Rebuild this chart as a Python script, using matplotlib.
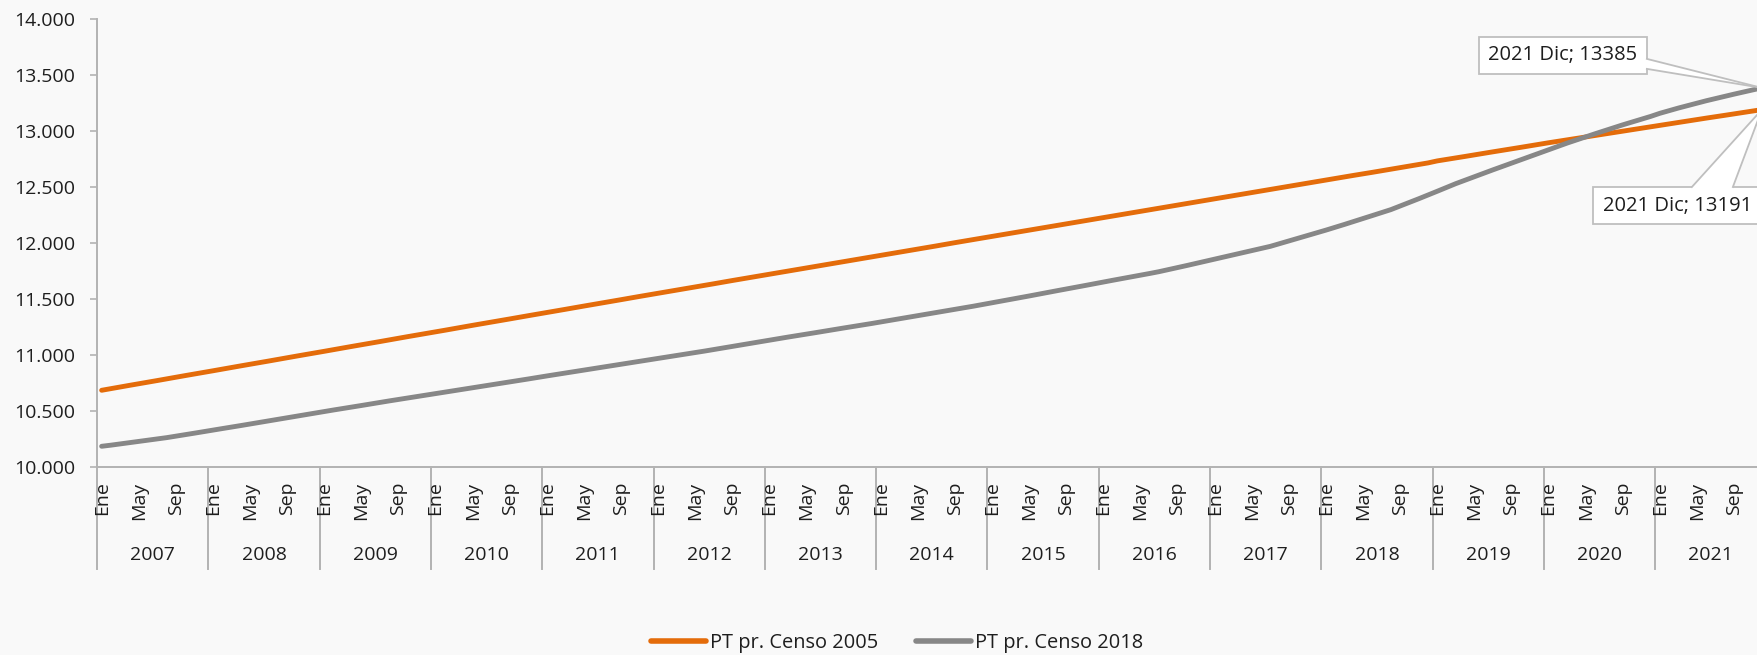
import matplotlib
matplotlib.use('Agg')
import matplotlib.pyplot as plt
import matplotlib.transforms as mtransforms
from matplotlib.patches import Rectangle, Polygon
from matplotlib.lines import Line2D
import numpy as np

plt.rcParams['font.family'] = ['Open Sans', 'DejaVu Sans']

# ---------------- data ----------------
years = list(range(2007, 2022))
month_names = ['Ene', 'Feb', 'Mar', 'Abr', 'May', 'Jun', 'Jul', 'Ago', 'Sep', 'Oct', 'Nov', 'Dic']
shown_months = ['Ene', 'May', 'Sep']
series_names = ['PT pr. Censo 2005', 'PT pr. Censo 2018']

censo2005 = [
    10685, 10700, 10714, 10729, 10743, 10758, 10772, 10787, 10801, 10816, 10830, 10845,  # 2007
    10859, 10874, 10888, 10903, 10917, 10932, 10946, 10961, 10975, 10990, 11004, 11019,  # 2008
    11033, 11048, 11062, 11077, 11091, 11106, 11120, 11135, 11149, 11164, 11178, 11193,  # 2009
    11207, 11221, 11236, 11250, 11265, 11279, 11293, 11308, 11322, 11337, 11351, 11365,  # 2010
    11380, 11394, 11408, 11423, 11437, 11451, 11466, 11480, 11494, 11509, 11523, 11537,  # 2011
    11552, 11566, 11580, 11594, 11608, 11622, 11636, 11651, 11665, 11679, 11693, 11707,  # 2012
    11721, 11735, 11749, 11763, 11777, 11791, 11806, 11820, 11834, 11848, 11862, 11876,  # 2013
    11890, 11904, 11918, 11932, 11946, 11960, 11974, 11989, 12003, 12017, 12031, 12045,  # 2014
    12059, 12073, 12087, 12101, 12115, 12129, 12143, 12157, 12171, 12185, 12199, 12213,  # 2015
    12227, 12241, 12255, 12269, 12283, 12297, 12311, 12325, 12339, 12353, 12367, 12381,  # 2016
    12395, 12409, 12423, 12437, 12451, 12464, 12478, 12492, 12506, 12520, 12534, 12548,  # 2017
    12562, 12576, 12590, 12604, 12617, 12631, 12645, 12659, 12673, 12687, 12701, 12715,  # 2018
    12733, 12746, 12760, 12773, 12787, 12800, 12814, 12827, 12841, 12854, 12868, 12881,  # 2019
    12895, 12908, 12921, 12934, 12947, 12960, 12973, 12986, 12999, 13012, 13025, 13038,  # 2020
    13051, 13064, 13076, 13089, 13102, 13115, 13127, 13140, 13153, 13166, 13178, 13191,  # 2021
]

censo2018 = [
    10185, 10195, 10206, 10216, 10227, 10238, 10250, 10262, 10275, 10289, 10302, 10316,  # 2007
    10330, 10343, 10356, 10370, 10384, 10398, 10412, 10425, 10439, 10453, 10467, 10481,  # 2008
    10495, 10509, 10522, 10536, 10549, 10563, 10576, 10590, 10603, 10617, 10630, 10643,  # 2009
    10656, 10669, 10682, 10695, 10708, 10721, 10734, 10747, 10760, 10773, 10786, 10800,  # 2010
    10813, 10826, 10839, 10852, 10865, 10878, 10891, 10904, 10917, 10930, 10943, 10956,  # 2011
    10970, 10983, 10996, 11009, 11022, 11035, 11049, 11063, 11077, 11091, 11105, 11119,  # 2012
    11133, 11146, 11160, 11173, 11187, 11200, 11214, 11227, 11241, 11254, 11268, 11281,  # 2013
    11295, 11309, 11323, 11337, 11351, 11365, 11379, 11393, 11407, 11421, 11436, 11451,  # 2014
    11467, 11482, 11497, 11512, 11527, 11543, 11558, 11574, 11589, 11605, 11620, 11636,  # 2015
    11652, 11667, 11682, 11697, 11712, 11728, 11744, 11762, 11780, 11799, 11818, 11838,  # 2016
    11857, 11876, 11894, 11913, 11932, 11950, 11970, 11994, 12018, 12042, 12067, 12091,  # 2017
    12115, 12140, 12166, 12192, 12218, 12245, 12272, 12298, 12330, 12362, 12395, 12428,  # 2018
    12462, 12496, 12530, 12561, 12592, 12622, 12653, 12683, 12713, 12744, 12774, 12804,  # 2019
    12834, 12863, 12892, 12920, 12948, 12975, 13002, 13029, 13055, 13080, 13105, 13130,  # 2020
    13158, 13182, 13205, 13227, 13249, 13270, 13290, 13310, 13329, 13348, 13367, 13385,  # 2021
]

y_ticks = [10000, 10500, 11000, 11500, 12000, 12500, 13000, 13500, 14000]

# ---------------- styling ----------------
BG = '#F9F9F9'
ORANGE = '#E46C0A'
GRAY = '#878787'
AXIS = '#B3B3B3'
TXT = '#1E1E1E'
BOXEDGE = '#BFBFBF'

categories = [(y, m) for y in years for m in month_names]
x = np.arange(len(categories))

fig = plt.figure(figsize=(17.58, 6.55), dpi=100, facecolor=BG)
ax = fig.add_axes([0.05518, 0.28702, 0.94966, 0.68397])
ax.set_facecolor(BG)

ax.plot(x, censo2005, color=ORANGE, lw=3.5, solid_capstyle='round', zorder=3)
ax.plot(x, censo2018, color=GRAY, lw=3.5, solid_capstyle='round', zorder=3)

ax.set_xlim(-0.5, len(categories) - 0.5)
ax.set_ylim(y_ticks[0], y_ticks[-1])
ax.set_yticks(y_ticks)
ax.set_yticklabels([f'{v:,}'.replace(',', '.') for v in y_ticks])

for s in ['top', 'right']:
    ax.spines[s].set_visible(False)
for s in ['left', 'bottom']:
    ax.spines[s].set_color(AXIS)
    ax.spines[s].set_linewidth(1.4)

ax.tick_params(axis='y', direction='out', length=5, width=1.2, color=AXIS,
               labelsize=14, labelcolor=TXT, pad=10.5)

tick_pos = [i for i, (yy, mm) in enumerate(categories) if mm in shown_months]
tick_lab = [categories[i][1] for i in tick_pos]
ax.set_xticks(tick_pos)
ax.set_xticklabels(tick_lab, rotation=90, fontsize=14, color=TXT)
ax.tick_params(axis='x', length=0, pad=10.5)

# year group separators and labels
blend = mtransforms.blended_transform_factory(ax.transData, ax.transAxes)
axes_h_px = 0.68397 * 655
sep_depth = -102 / axes_h_px
year_y = -88 / axes_h_px
for k, yr in enumerate(years):
    left = k * 12 - 0.5
    ax.plot([left, left], [0, sep_depth], transform=blend, color=AXIS, lw=1.4,
            clip_on=False, zorder=1)
    ax.text(left + 6, year_y, str(yr), transform=blend, ha='center', va='center',
            fontsize=14, color=TXT)
last = len(categories) - 1 + 0.5
ax.plot([last, last], [0, sep_depth], transform=blend, color=AXIS, lw=1.4,
        clip_on=False, zorder=1)


# ---------------- callouts ----------------
def callout(xi, yi, label, box, wedge, text_xy):
    trans = mtransforms.Affine2D() + mtransforms.ScaledTranslation(xi, yi, ax.transData)
    bx, by, bw, bh = box
    ax.add_patch(Rectangle((bx, by), bw, bh, transform=trans, facecolor='white',
                           edgecolor=BOXEDGE, lw=1.3, clip_on=False, zorder=5))
    (ax1, ay1), (ax2, ay2), inward = wedge
    ix, iy = inward
    ax.add_patch(Polygon([(ax1 + ix, ay1 + iy), (ax1, ay1), (0, 0), (ax2, ay2),
                          (ax2 + ix, ay2 + iy)], closed=True, transform=trans,
                         facecolor='white', edgecolor='none', clip_on=False, zorder=5.5))
    for (px_, py_) in [(ax1, ay1), (ax2, ay2)]:
        ax.add_line(Line2D([px_, 0], [py_, 0], transform=trans, color=BOXEDGE, lw=1.3,
                           clip_on=False, zorder=5.6))
    ax.text(text_xy[0], text_xy[1], label, transform=trans, ha='left', va='center',
            fontsize=14.5, color=TXT, zorder=6, clip_on=False)


last_year, last_month = categories[-1]
callout(x[-1], censo2018[-1], f'{last_year} {last_month}; {censo2018[-1]}',
        box=(-283, 14, 168, 37), wedge=((-115, 29), (-115, 19), (-3, 0)),
        text_xy=(-274, 32.5))
callout(x[-1], censo2005[-1], f'{last_year} {last_month}; {censo2005[-1]}',
        box=(-169, -114.4, 172, 37), wedge=((-70, -77.4), (-29, -77.4), (0, -3)),
        text_xy=(-159, -96))

# ---------------- legend ----------------
handles = [Line2D([], [], color=ORANGE, lw=4.0, solid_capstyle='round'),
           Line2D([], [], color=GRAY, lw=4.0, solid_capstyle='round')]
leg = fig.legend(handles, series_names, loc='center', bbox_to_anchor=(0.5103, 0.0185),
                 ncol=2, frameon=False, fontsize=14.4, handlelength=2.76,
                 handletextpad=0.2, columnspacing=1.85, borderpad=0.1)
for t in leg.get_texts():
    t.set_color(TXT)

fig.savefig('out.png', dpi=100, facecolor=BG)
